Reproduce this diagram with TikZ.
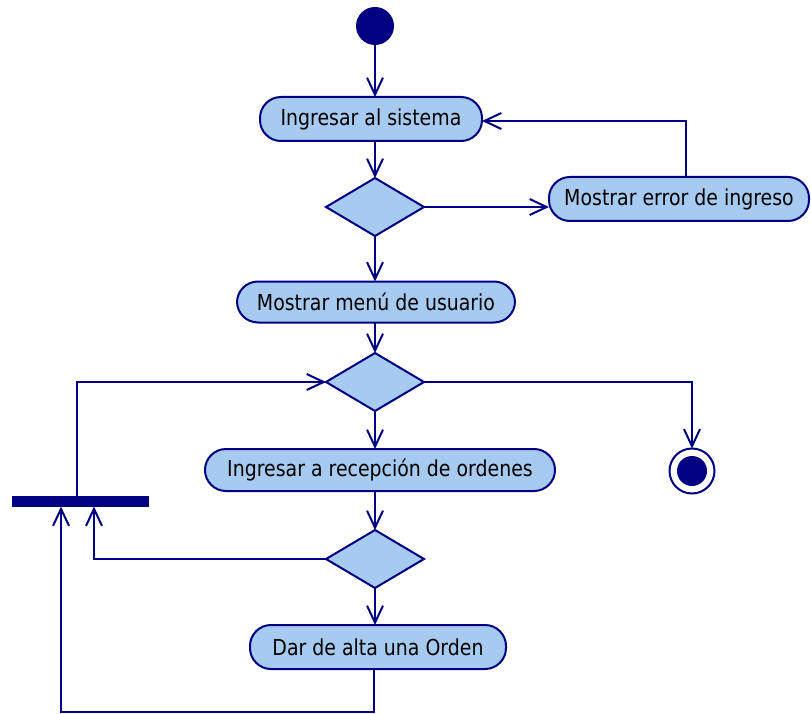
\documentclass[tikz,border=0pt]{standalone}
\usepackage{fontspec}
\setmainfont{DejaVu Sans}[FakeStretch=0.86]
\usetikzlibrary{shapes.geometric,arrows.meta}
\definecolor{navy}{RGB}{0,0,128}
\definecolor{actfill}{RGB}{166,202,240}
\begin{document}
\begin{tikzpicture}[x=1pt,y=-1pt,
  every node/.style={inner sep=0pt, outer sep=0pt},
  action/.style={draw=navy, fill=actfill, line width=2pt, rounded corners=21pt,
    minimum height=44pt, font=\fontsize{22}{26}\selectfont, text=black},
  choice/.style={diamond, draw=navy, fill=actfill, line width=2pt,
    minimum width=98pt, minimum height=58pt},
  flow/.style={draw=navy, line width=2pt,
    -{Straight Barb[length=17pt,width=16pt,line width=2pt]}}]
\useasboundingbox (0,0) rectangle (811,714);

% initial and final states
\node[circle, fill=navy, minimum size=38pt] (start) at (375,26) {};
\node[circle, draw=navy, line width=2pt, fill=white, minimum size=45pt] (end) at (692,471) {};
\node[circle, fill=navy, minimum size=30pt] (endin) at (692,471) {};

% actions
\node[action, minimum width=222pt] (login) at (371,119) {Ingresar al sistema};
\node[action, minimum width=260pt] (err) at (679,199) {Mostrar error de ingreso};
\node[action, minimum width=278pt, minimum height=41pt] (menu) at (376,302) {Mostrar menú de usuario};
\node[action, minimum width=350pt, minimum height=42pt] (rec) at (380,470) {Ingresar a recepción de ordenes};
\node[action, minimum width=256pt] (alta) at (378,647) {Dar de alta una Orden};

% decisions
\node[choice] (d1) at (375,207) {};
\node[choice] (d2) at (375,382) {};
\node[choice] (d3) at (375,559) {};

% join bar
\node[fill=navy, minimum width=137pt, minimum height=11pt] (bar) at (80,501) {};
\coordinate (loop) at (374,712);

% transitions
\draw[flow] (start.south) -- (start.south |- login.north);
\draw[flow] (login.south -| d1.north) -- (d1.north);
\draw[flow] (d1.east) -- (d1.east -| err.west);
\draw[flow] ([xshift=7pt]err.north) |- ([yshift=-2pt]login.east);
\draw[flow] (d1.south) -- (d1.south |- menu.north);
\draw[flow] (menu.south -| d2.north) -- (d2.north);
\draw[flow] (d2.east) -| (end.north);
\draw[flow] (d2.south) -- (d2.south |- rec.north);
\draw[flow] (rec.south -| d3.north) -- (d3.north);
\draw[flow] (d3.west) -| ([xshift=14pt]bar.south);
\draw[flow] (d3.south) -- (d3.south |- alta.north);
\draw[flow] (alta.south -| loop) -- (loop) -| ([xshift=-19pt]bar.south);
\draw[flow] ([xshift=-3pt]bar.north) |- (d2.west);
\end{tikzpicture}
\end{document}
